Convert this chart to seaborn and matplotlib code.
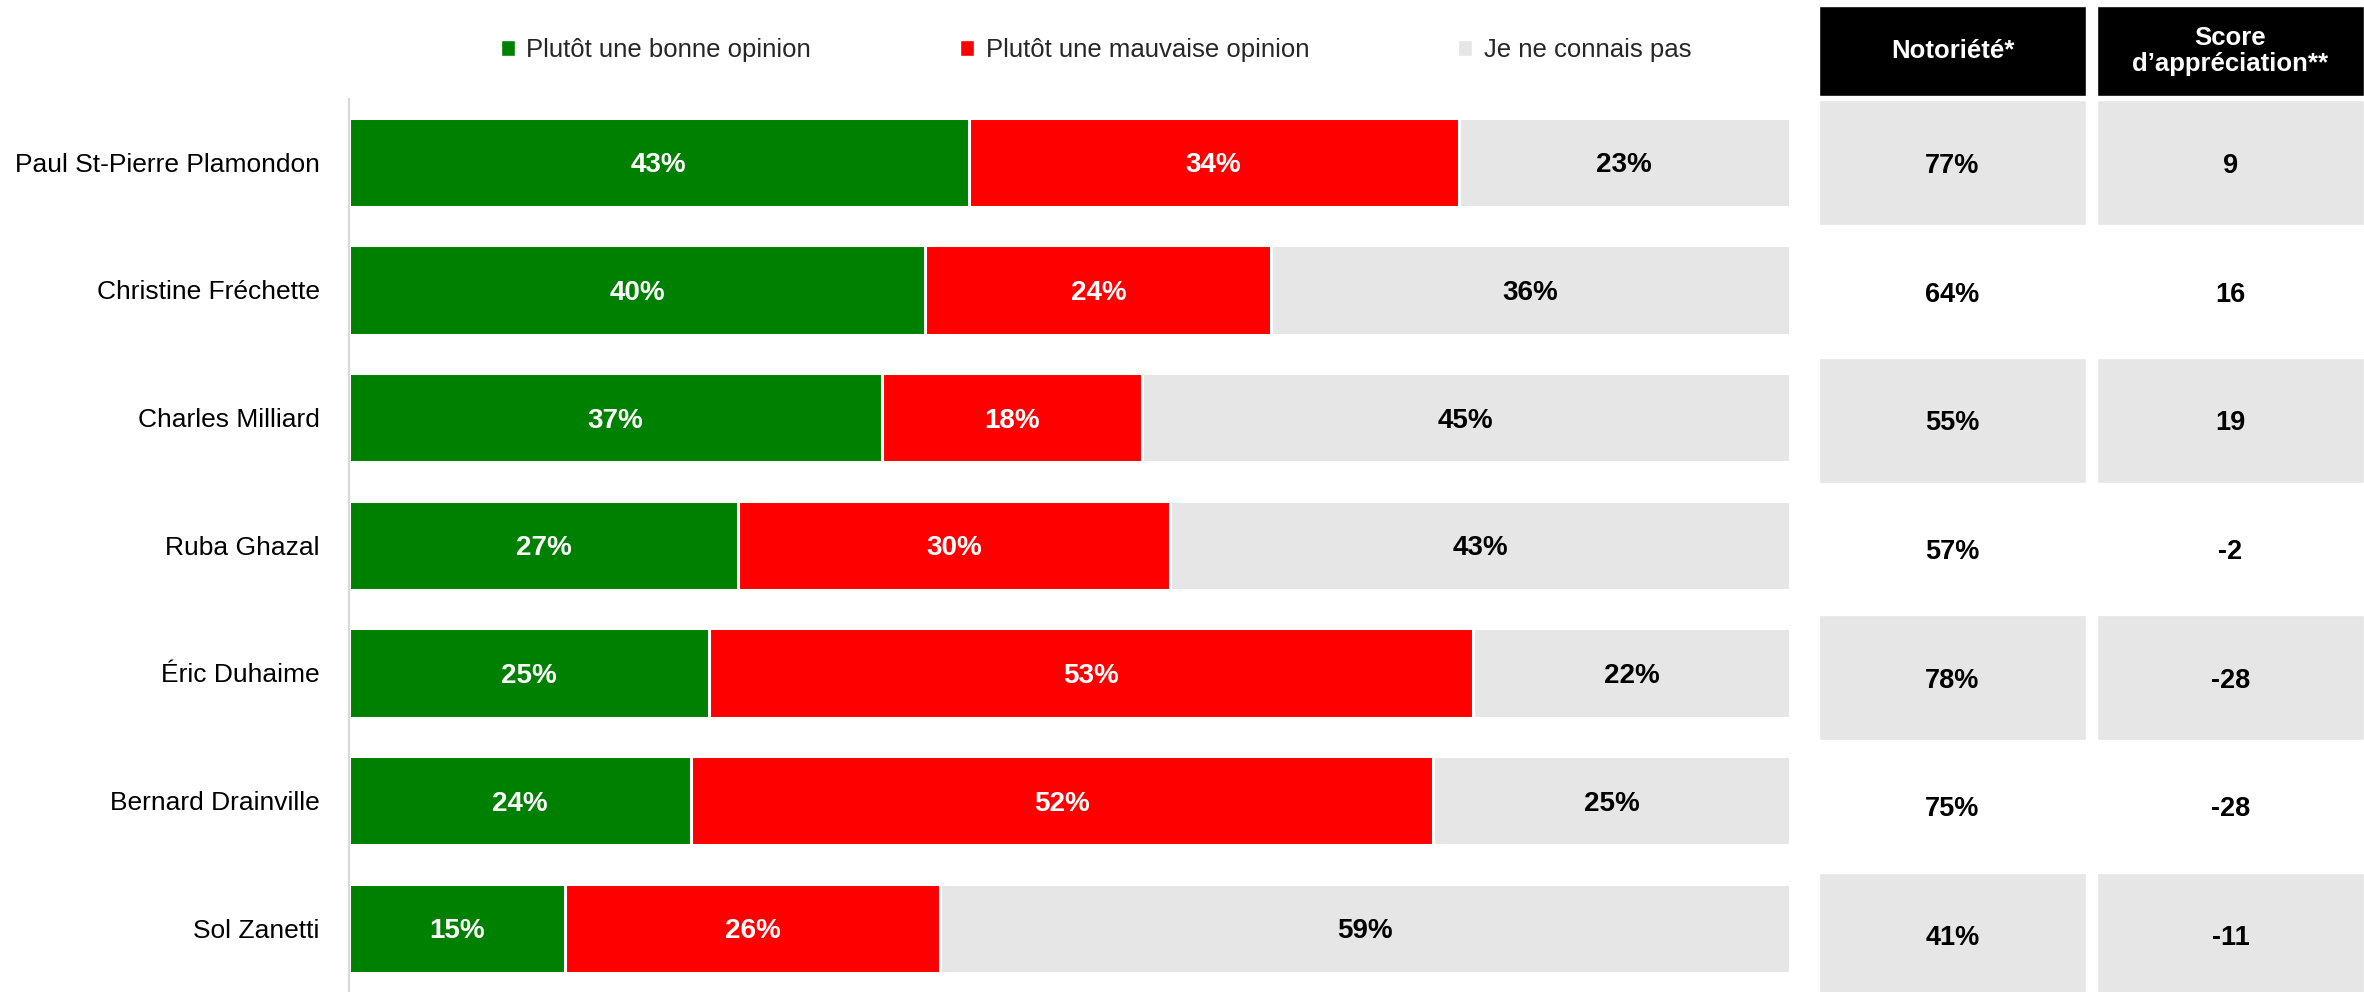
import matplotlib

matplotlib.use("Agg")
import matplotlib.pyplot as plt
from matplotlib.patches import Patch
import numpy as np
import pandas as pd
import seaborn as sns

sns.set_style("white")
plt.rcParams["font.family"] = ["Liberation Sans", "DejaVu Sans"]

# données du sondage
CANDIDATS = [
    "Paul St-Pierre Plamondon",
    "Christine Fréchette",
    "Charles Milliard",
    "Ruba Ghazal",
    "Éric Duhaime",
    "Bernard Drainville",
    "Sol Zanetti",
]
BONNE = [43, 40, 37, 27, 25, 24, 15]
MAUVAISE = [34, 24, 18, 30, 53, 52, 26]
NE_CONNAIS_PAS = [23, 36, 45, 43, 22, 25, 59]
NOTORIETE = ["77%", "64%", "55%", "57%", "78%", "75%", "41%"]
SCORE = ["9", "16", "19", "-2", "-28", "-28", "-11"]

LEGENDE = ["Plutôt une bonne opinion", "Plutôt une mauvaise opinion", "Je ne connais pas"]
ENTETES = ["Notoriété*", "Score\nd’appréciation**"]

VERT = "#008000"
ROUGE = "#ff0000"
GRIS = "#e6e6e6"

df = pd.DataFrame(
    {
        "candidat": CANDIDATS,
        "bonne": BONNE,
        "mauvaise": MAUVAISE,
        "inconnu": NE_CONNAIS_PAS,
    }
)
total = df["bonne"] + df["mauvaise"] + df["inconnu"]
# normalise chaque ligne à 100 %
df["c1"] = df["bonne"] / total * 100
df["c2"] = (df["bonne"] + df["mauvaise"]) / total * 100
df["c3"] = 100.0

W, H = 2364, 992
fig = plt.figure(figsize=(W / 100, H / 100), dpi=100)

row_px = 128.7
top_px = 98.5
y_bottom = -0.5 + (H - top_px) / row_px

ax = fig.add_axes([349 / W, 0, (1790 - 349) / W, 1 - top_px / H])

# barres empilées par superposition des cumuls
for col, color in [("c3", GRIS), ("c2", ROUGE), ("c1", VERT)]:
    sns.barplot(
        data=df,
        x=col,
        y="candidat",
        orient="h",
        color=color,
        width=0.7,
        edgecolor="white",
        linewidth=2.2,
        saturation=1,
        ax=ax,
    )

ax.set_xlim(0, 100)
ax.set_ylim(y_bottom, -0.5)
ax.set_xlabel("")
ax.set_ylabel("")
ax.xaxis.set_visible(False)
for side in ["top", "right", "bottom"]:
    ax.spines[side].set_visible(False)
ax.spines["left"].set_color("#d9d9d9")
ax.spines["left"].set_linewidth(1.6)
ax.spines["left"].set_zorder(5)
ax.tick_params(axis="y", which="major", length=0, pad=21, labelsize=19, labelcolor="black")
ax.set_yticks(np.arange(len(CANDIDATS) + 1) - 0.5, minor=True)
ax.tick_params(axis="y", which="minor", length=5, width=1.6, color="#d9d9d9")

for i, row in df.iterrows():
    mids = [row["c1"] / 2, (row["c1"] + row["c2"]) / 2, (row["c2"] + 100) / 2]
    vals = [row["bonne"], row["mauvaise"], row["inconnu"]]
    cols = ["white", "white", "black"]
    for m, v, c in zip(mids, vals, cols):
        ax.text(m, i, f"{v}%", ha="center", va="center_baseline", color=c,
                fontsize=20, fontweight="bold", zorder=6)

# légende
handles = [Patch(facecolor=c) for c in [VERT, ROUGE, GRIS]]
fig.legend(
    handles,
    LEGENDE,
    loc="center",
    bbox_to_anchor=(1096 / W, 1 - 50 / H),
    ncol=3,
    frameon=False,
    fontsize=18.5,
    handlelength=0.55,
    handleheight=0.55,
    handletextpad=0.45,
    columnspacing=5.8,
)

# tableau à droite
tx = fig.add_axes([1819 / W, 0, 1 - 1819 / W, 1])
tx.set_xlim(0, 2)
tx.set_ylim(y_bottom, -0.5 - top_px / row_px)
tx.axis("off")

head_top = -0.5 - (top_px - 6) / row_px
head_bot = -0.5 - (top_px - 96.5) / row_px
head_c = (head_top + head_bot) / 2
head_h = head_bot - head_top

lefts = [0, 1.02]
widths = [0.98, 0.98]
for j in range(2):
    tx.barh([head_c], [widths[j]], left=lefts[j], height=head_h, color="black")
    tx.text(lefts[j] + widths[j] / 2, head_c, ENTETES[j], ha="center", va="center",
            color="white", fontsize=18.5, fontweight="bold", linespacing=1.1)

rows = np.arange(len(CANDIDATS))
cell_colors = [GRIS if r % 2 == 0 else "white" for r in rows]
for j, vals in enumerate([NOTORIETE, SCORE]):
    tx.barh(rows, [widths[j]] * len(rows), left=lefts[j], height=0.97, color=cell_colors)
    for r, v in zip(rows, vals):
        tx.text(lefts[j] + widths[j] / 2, r, v, ha="center", va="center_baseline",
                color="black", fontsize=19.5, fontweight="bold")

fig.savefig("out.png", dpi=100)
